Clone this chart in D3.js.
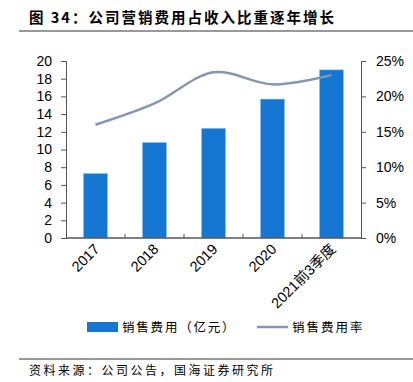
<!DOCTYPE html>
<html><head><meta charset="utf-8">
<script src="https://cdn.jsdelivr.net/npm/d3@7"></script>
<style>body{margin:0;background:#fff}svg{display:block}</style>
</head><body>
<script>
const categories = ["2017","2018","2019","2020","2021前3季度"];
const salesExpense = [7.3, 10.8, 12.4, 15.7, 19.0];
const expenseRate = [16.0, 19.0, 23.4, 21.7, 23.0];
const leftTicks = [0,2,4,6,8,10,12,14,16,18,20];
const rightTicks = [0,5,10,15,20,25];
const seriesNames = ["销售费用（亿元）","销售费用率"];

const W = 413, H = 382;
const svg = d3.select("body").append("svg").attr("width", W).attr("height", H);
const m = {l:66, r:361, t:61, b:238};
const num = "Liberation Sans, Arial, sans-serif";
const cjk = "Noto Sans CJK SC, sans-serif";

// title
svg.append("text").attr("x", 29).attr("y", 23).attr("font-family", cjk).attr("font-weight", "bold")
  .attr("font-size", 14.5).attr("letter-spacing", 2).attr("fill", "#000").text("图 34：公司营销费用占收入比重逐年增长");
svg.append("line").attr("x1", 19).attr("x2", 413).attr("y1", 31).attr("y2", 31).attr("stroke", "#333").attr("stroke-width", 1);

const x = d3.scaleBand().domain(categories).range([m.l, m.r]).paddingInner(0.59).paddingOuter(0.295);
const yL = d3.scaleLinear().domain([0,20]).range([m.b, m.t]);
const yR = d3.scaleLinear().domain([0,25]).range([m.b, m.t]);

// bars
svg.append("g").selectAll("rect").data(salesExpense).join("rect")
  .attr("x", (d,i) => x(categories[i])).attr("width", x.bandwidth())
  .attr("y", d => yL(d)).attr("height", d => yL(0) - yL(d))
  .attr("fill", "#1677d2").attr("stroke", "#9cc7f0").attr("stroke-width", 0.6);

// line
const line = d3.line().x((d,i) => x(categories[i]) + x.bandwidth()/2).y(d => yR(d))
  .curve(d3.curveCatmullRom.alpha(0.5));
svg.append("path").datum(expenseRate).attr("d", line).attr("fill", "none")
  .attr("stroke", "#8496b2").attr("stroke-width", 2.5);

// axes
const axisColor = "#555";
const gL = svg.append("g").attr("transform", `translate(${m.l},0)`)
  .call(d3.axisLeft(yL).tickValues(leftTicks).tickSize(5).tickPadding(9));
const gR = svg.append("g").attr("transform", `translate(${m.r},0)`)
  .call(d3.axisRight(yR).tickValues(rightTicks).tickSize(5).tickPadding(10).tickFormat(d => d + "%"));
[gL, gR].forEach(g => {
  g.select(".domain").attr("stroke", axisColor);
  g.selectAll(".tick line").attr("stroke", axisColor);
  g.selectAll("text").attr("font-family", num).attr("font-size", 14).attr("fill", "#000");
});

// bottom axis with ticks between categories
const gB = svg.append("g");
gB.append("line").attr("x1", m.l).attr("x2", m.r).attr("y1", m.b).attr("y2", m.b).attr("stroke", axisColor).attr("stroke-width", 1.5);
const step = x.step();
gB.selectAll("line.t").data(d3.range(1, categories.length)).join("line").attr("class","t")
  .attr("x1", i => m.l + i*step).attr("x2", i => m.l + i*step)
  .attr("y1", m.b).attr("y2", m.b - 4).attr("stroke", axisColor);
gB.selectAll("text").data(categories).join("text")
  .attr("transform", d => `translate(${x(d) + x.bandwidth()/2 + 5},${m.b + 12}) rotate(-45)`)
  .attr("text-anchor", "end").attr("font-family", num).attr("font-size", 14.5).attr("fill", "#000")
  .each(function(d){
    const t = d3.select(this);
    const mm = d.match(/^(\d+)(.*)$/);
    if (mm && mm[2]) {
      t.append("tspan").text(mm[1]);
      const parts = mm[2].split(/(\d+)/).filter(s => s.length);
      parts.forEach(p => t.append("tspan").attr("font-family", /\d/.test(p) ? num : cjk).text(p));
    } else t.text(d);
  });

// legend
const lg = svg.append("g");
lg.append("rect").attr("x", 87).attr("y", 322).attr("width", 31).attr("height", 10).attr("fill", "#1677d2");
lg.append("text").attr("x", 122).attr("y", 332).attr("font-family", cjk).attr("font-size", 12.5).attr("letter-spacing", 1.8).attr("fill", "#000").text(seriesNames[0]);
lg.append("line").attr("x1", 257).attr("x2", 288).attr("y1", 327).attr("y2", 327).attr("stroke", "#8496b2").attr("stroke-width", 2.5);
lg.append("text").attr("x", 292).attr("y", 332).attr("font-family", cjk).attr("font-size", 12.5).attr("letter-spacing", 2).attr("fill", "#000").text(seriesNames[1]);

// footer
svg.append("line").attr("x1", 19).attr("x2", 413).attr("y1", 359).attr("y2", 359).attr("stroke", "#333").attr("stroke-width", 1);
svg.append("text").attr("x", 29).attr("y", 375).attr("font-family", cjk).attr("font-size", 12).attr("letter-spacing", 2.5).attr("fill", "#000").text("资料来源：公司公告，国海证券研究所");
</script>
</body></html>
